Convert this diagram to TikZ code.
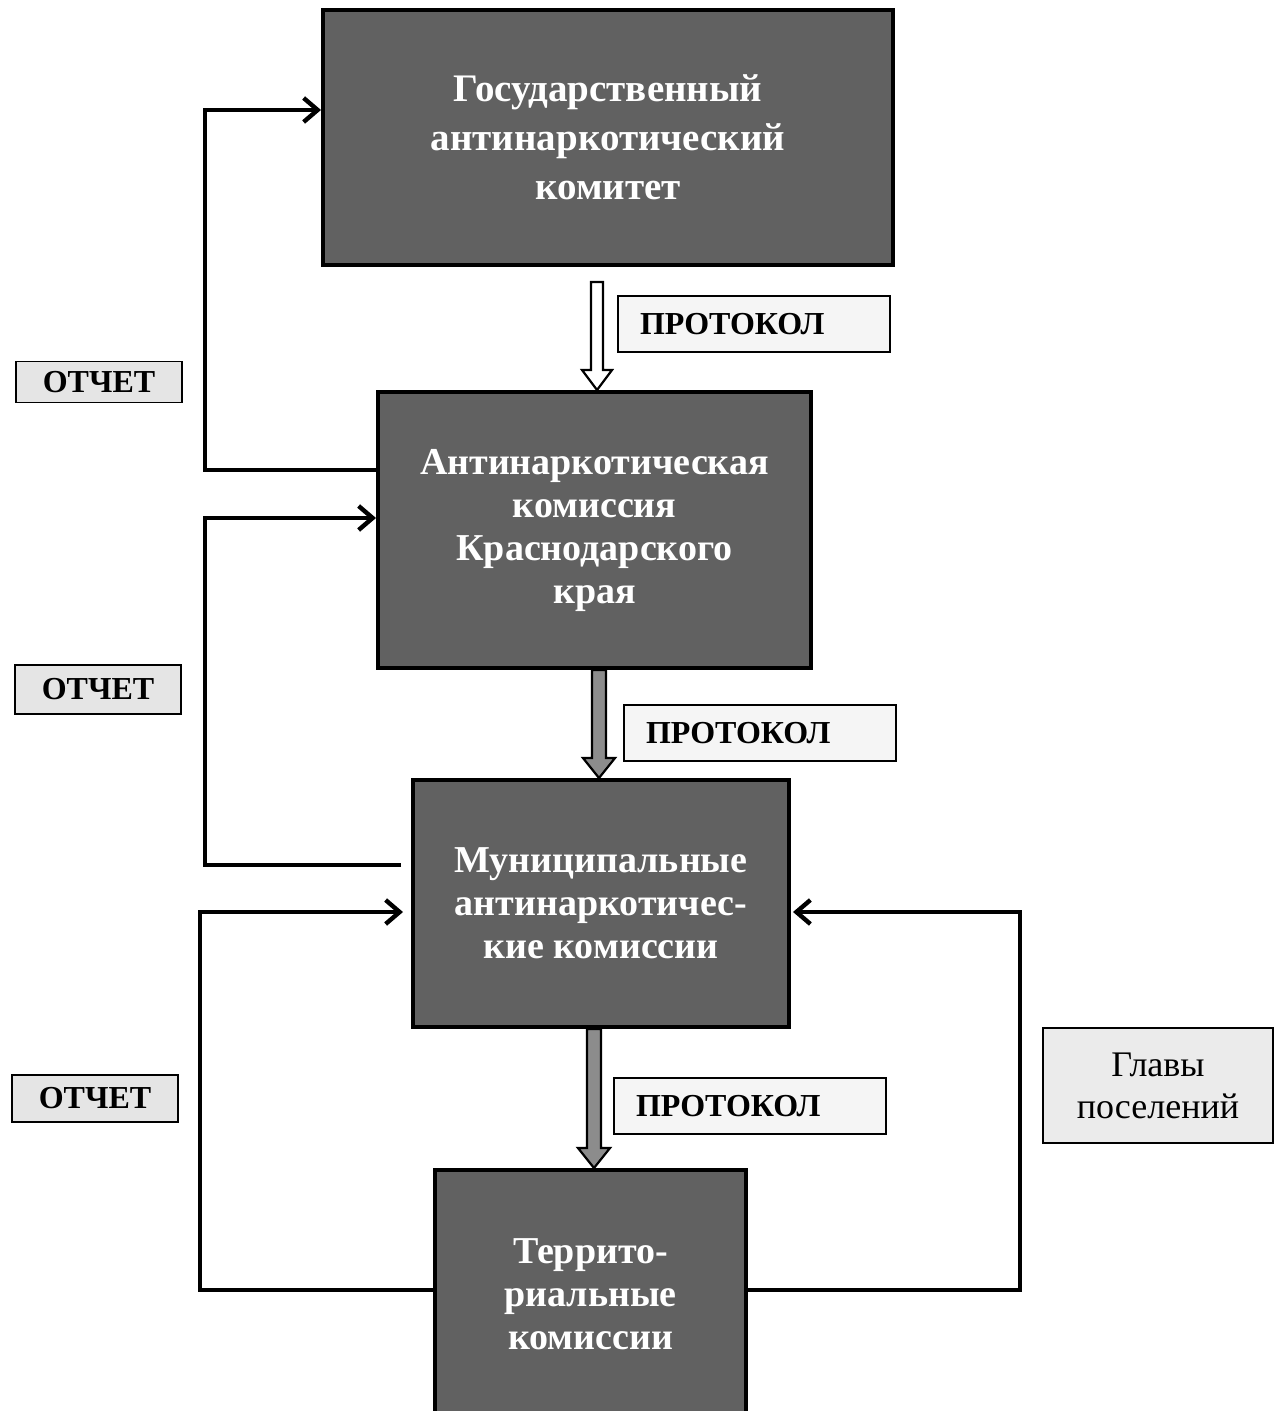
\documentclass[tikz,border=0pt]{standalone}
\usepackage{fontspec}
\setmainfont{Liberation Serif}
\usetikzlibrary{calc,arrows.meta,shadows}
\tikzset{
  mainbox/.style={draw=black, line width=2pt, fill=black!62, text=white,
    font=\bfseries\fontsize{19}{21.5}\selectfont, align=center, inner sep=0pt,
    drop shadow={shadow xshift=1.2pt, shadow yshift=-1.2pt, fill=black, opacity=1}},
  protobox/.style={draw=black, line width=0.9pt, fill=black!4, inner xsep=11pt, inner ysep=0pt,
    text width=114pt, align=left, minimum height=28pt,
    font=\bfseries\fontsize{16}{19}\selectfont},
  otchet/.style={draw=black, line width=0.9pt, fill=black!10, inner sep=0pt,
    minimum width=83pt, align=center, font=\bfseries\fontsize{16}{19}\selectfont},
  glava/.style={draw=black, line width=0.9pt, fill=black!8, inner sep=0pt,
    minimum width=115pt, minimum height=57.5pt, align=center,
    font=\fontsize{18}{21}\selectfont},
  fb/.style={line width=2pt, -{Straight Barb[length=7pt,width=12pt,line width=2.2pt]}},
  fat/.style={draw=black, line width=1.1pt, fill=#1, line join=miter}
}
\newcommand{\fatdown}[5]{% from, to, fill, shaft half, head half
  \draw[fat=#3] let \p1=(#1), \p2=(#2) in
    (\x1-#4,\y1) -- (\x1-#4,\y2+10pt) -- (\x1-#5,\y2+10pt) -- (\x1,\y2)
    -- (\x1+#5,\y2+10pt) -- (\x1+#4,\y2+10pt) -- (\x1+#4,\y1) -- cycle;}
\begin{document}
\begin{tikzpicture}[x=0.5pt,y=-0.5pt]
\useasboundingbox (0,0) rectangle (1282,1411);
% main boxes
\node[mainbox, minimum width=285pt, minimum height=127.5pt,
  font=\bfseries\fontsize{19.5}{24.5}\selectfont] (b1) at (608,137.5)
  {Государственный\\антинаркотический\\комитет};
\node[mainbox, minimum width=216.5pt, minimum height=138pt] (b2) at (594.5,530)
  {\raisebox{-3pt}{\begin{tabular}{@{}c@{}}Антинаркотическая\\комиссия\\Краснодарского\\края\end{tabular}}};
\node[mainbox, minimum width=188pt, minimum height=123.5pt] (b3) at (601,903.5)
  {Муниципальные\\антинаркотичес-\\кие комиссии};
\node[mainbox, minimum width=155.5pt, minimum height=124pt] (b4) at (590.5,1294)
  {Террито-\\риальные\\комиссии};
% labels
\node[protobox] (p1) at (754,324) {ПРОТОКОЛ};
\node[protobox] (p2) at (760,733) {ПРОТОКОЛ};
\node[protobox] (p3) at (750,1106) {ПРОТОКОЛ};
\node[otchet, minimum height=20.5pt] (o1) at (99,382) {ОТЧЕТ};
\node[otchet, minimum height=24.5pt] (o2) at (98,689.5) {ОТЧЕТ};
\node[otchet, minimum height=23.5pt] (o3) at (95,1098.5) {ОТЧЕТ};
\node[glava] (gl) at (1158,1085.5) {Главы\\поселений};
% down arrows
\coordinate (a1s) at (597,282);
\coordinate (a2x) at (599,0);
\coordinate (a3x) at (594,0);
\fatdown{a1s}{b2.north -| a1s}{white}{3pt}{7.5pt}
\fatdown{b2.south -| a2x}{b3.north -| a2x}{black!45}{3.5pt}{8pt}
\fatdown{b3.south -| a3x}{b4.north -| a3x}{black!45}{3.5pt}{8pt}
% feedback lines
\coordinate (cA) at (205,110);
\coordinate (cB) at (205,518);
\coordinate (cC) at (200,912);
\coordinate (cD) at (1020,912);
\draw[fb] ([yshift=30pt]b2.west) -| (cA) -- ([yshift=13.75pt]b1.west);
\draw[fb, shorten <=5pt] ([yshift=19.25pt]b3.west) -| (cB) -- ([yshift=6pt]b2.west);
\draw[fb, shorten >=4pt] ([yshift=2pt]b4.west) -| (cC) -- ([yshift=-4.25pt]b3.west);
\draw[fb, shorten >=1pt] ([yshift=2pt]b4.east) -| (cD) -- ([yshift=-4.25pt]b3.east);
\end{tikzpicture}
\end{document}
